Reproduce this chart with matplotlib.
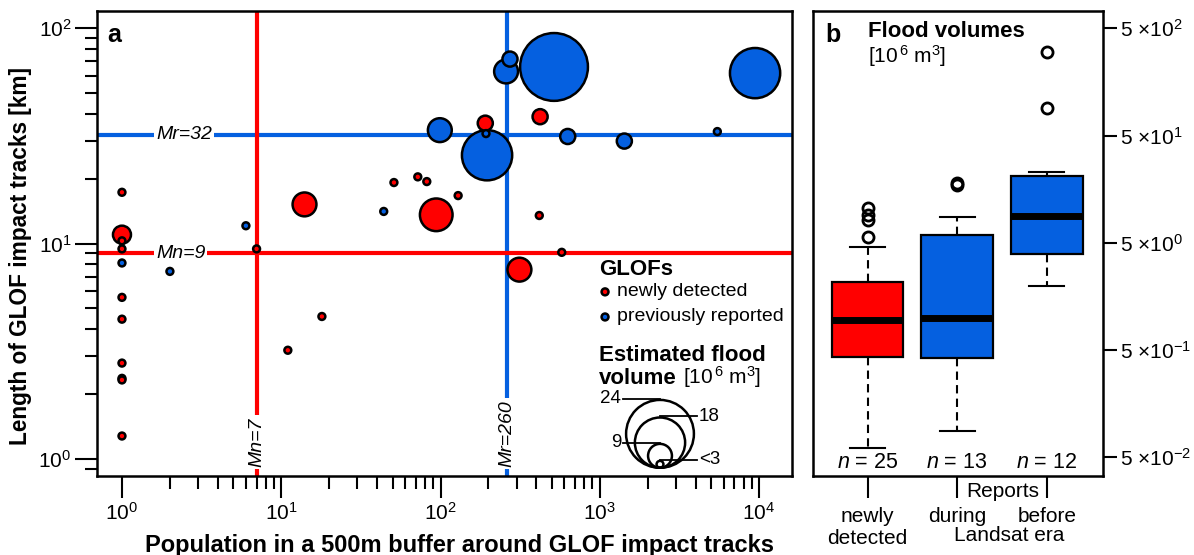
import numpy as np
import matplotlib.pyplot as plt
from matplotlib.ticker import NullFormatter, NullLocator, FixedLocator
import matplotlib.transforms as mtransforms

plt.rcParams['font.family'] = ['Liberation Sans', 'DejaVu Sans']
plt.rcParams['mathtext.fontset'] = 'custom'
plt.rcParams['mathtext.rm'] = 'Liberation Sans'
plt.rcParams['mathtext.it'] = 'Liberation Sans:italic'
plt.rcParams['mathtext.bf'] = 'Liberation Sans:bold'

RED = '#ff0000'
BLUE = '#0560e0'

# newly detected GLOFs: population in 500 m buffer, track length [km], flood volume [10^6 m^3]
new_pop = [1, 1, 1, 1, 1, 1, 1, 1, 1, 1, 7, 14, 18, 11, 51, 72, 82, 129, 94, 191, 422, 417, 577, 313]
new_len = [17.3, 11.0, 10.3, 9.45, 5.63, 4.46, 2.79, 2.37, 2.33, 1.28, 9.45, 15.2, 4.59, 3.2,
           19.2, 20.4, 19.4, 16.7, 13.6, 36.2, 38.8, 13.5, 9.11, 7.57]
new_vol = [2, 7, 2.5, 2, 2, 2, 2, 2, 2, 2, 2, 9, 2, 2, 2, 2, 2, 2, 12, 6, 6, 2, 2, 9]

# previously reported GLOFs
rep_pop = [1, 2, 6, 44, 99, 193, 196, 258, 273, 516, 629, 1426, 5470, 9440]
rep_len = [8.13, 7.43, 12.1, 14.1, 33.6, 32.4, 25.7, 62.9, 71.8, 66.0, 31.4, 29.9, 33.1, 61.8]
rep_vol = [2, 2, 2, 2, 9, 2, 18, 9, 6, 24, 6, 6, 2, 18]

# medians (Mn = newly detected, Mr = previously reported)
mn_pop, mn_len = 7, 9
mr_pop, mr_len = 260, 32

# size legend values
legend_vols = [24, 18, 9, 3]
legend_labels = ['24', '18', '9', '<3']

# panel b: flood volume box statistics [10^6 m^3]
box_labels = ['newly\ndetected', 'during', 'before']
box_n = [25, 13, 12]
box_colors = [RED, BLUE, BLUE]
box_whislo = [0.0607, 0.0879, 1.99]
box_q1 = [0.433, 0.419, 3.91]
box_med = [0.953, 0.989, 8.89]
box_q3 = [2.14, 5.91, 21.1]
box_whishi = [4.54, 8.75, 23.0]
box_fliers = [[5.7, 8.2, 9.1, 10.5], [17.3, 18.2], [89.8, 299]]
vol_ticks = [0.05, 0.5, 5, 50, 500]
vol_ticklabels = ['5 \u00d710$^{\\mathregular{-2}}$', '5 \u00d710$^{\\mathregular{-1}}$',
                  '5 \u00d710$^{\\mathregular{0}}$', '5 \u00d710$^{\\mathregular{1}}$',
                  '5 \u00d710$^{\\mathregular{2}}$']

W, H = 1194, 555
EDGE = 1.8


def marker_area(vol):
    # circle diameter grows linearly with flood volume, small floods share one size
    d_px = 2.93 * np.maximum(np.asarray(vol, float), 3.2)
    return (d_px * 0.72 - EDGE) ** 2


fig = plt.figure(figsize=(W / 100, H / 100), dpi=100)
ax = fig.add_axes([97 / W, 1 - 476 / H, 695 / W, 465 / H])
axb = fig.add_axes([813 / W, 1 - 476 / H, 290 / W, 465 / H])

# ---- panel a
ax.set_xscale('log')
ax.set_yscale('log')
ax.set_xlim(0.697, 16100)
ax.set_ylim(0.835, 120)

ax.axvline(mr_pop, color=BLUE, lw=3, zorder=1)
ax.axhline(mr_len, color=BLUE, lw=3, zorder=1)
ax.axvline(mn_pop, color=RED, lw=3, zorder=1.1)
ax.axhline(mn_len, color=RED, lw=3, zorder=1.1)

lab_kw = dict(fontsize=14, style='italic', zorder=2,
              bbox=dict(facecolor='white', edgecolor='none', pad=1.5))
ax.text(1.635, mr_len, 'Mr=%d' % mr_len, ha='left', va='center', **lab_kw)
ax.text(1.635, mn_len, 'Mn=%d' % mn_len, ha='left', va='center', **lab_kw)
ax.text(mn_pop, 1.2, 'Mn=%d' % mn_pop, rotation=90, ha='center', va='center', **lab_kw)
ax.text(mr_pop, 1.32, 'Mr=%d' % mr_pop, rotation=90, ha='center', va='center', **lab_kw)

pop = np.array(new_pop + rep_pop, float)
length = np.array(new_len + rep_len, float)
vol = np.array(new_vol + rep_vol, float)
cols = np.array([RED] * len(new_pop) + [BLUE] * len(rep_pop))
order = np.argsort(-vol, kind='stable')
ax.scatter(pop[order], length[order], s=marker_area(vol[order]), c=cols[order],
           edgecolors='black', linewidths=EDGE, zorder=3)

for sp in ax.spines.values():
    sp.set_linewidth(1.8)
ax.tick_params(axis='both', which='major', length=15.5, width=1.5, labelsize=15, pad=3)
ax.tick_params(axis='both', which='minor', length=9, width=1.5)
ax.xaxis.set_minor_locator(FixedLocator([k * 10.0 ** e for e in range(4) for k in range(2, 10)]))
ax.yaxis.set_minor_locator(FixedLocator([0.9] + [k * 10.0 ** e for e in range(2) for k in range(2, 10)]))
ax.xaxis.set_minor_formatter(NullFormatter())
ax.yaxis.set_minor_formatter(NullFormatter())

ax.set_xlabel('Population in a 500m buffer around GLOF impact tracks',
              fontsize=17, fontweight='bold')
ax.xaxis.set_label_coords(0.521, -0.124)
ax.set_ylabel('Length of GLOF impact tracks [km]', fontsize=16.3, fontweight='bold')
ax.yaxis.set_label_coords(-0.093, 0.473)

ax.text(0.0144, 0.934, 'a', transform=ax.transAxes, fontsize=18, fontweight='bold')

# legend
ax.text(0.7223, 0.432, 'GLOFs', transform=ax.transAxes, fontsize=16, fontweight='bold')
ax.scatter([0.731, 0.731], [0.396, 0.342], s=marker_area([2, 2]), c=[RED, BLUE],
           edgecolors='black', linewidths=EDGE, transform=ax.transAxes, zorder=3)
ax.text(0.748, 0.396, 'newly detected', transform=ax.transAxes, fontsize=14, va='center')
ax.text(0.748, 0.342, 'previously reported', transform=ax.transAxes, fontsize=14, va='center')
ax.text(0.7223, 0.248, 'Estimated flood', transform=ax.transAxes, fontsize=16, fontweight='bold')
ax.text(0.7223, 0.198, 'volume', transform=ax.transAxes, fontsize=16, fontweight='bold')
ax.text(0.843, 0.198, '[10$^{\\mathregular{\\,6}}$ m$^{\\mathregular{3}}$]',
        transform=ax.transAxes, fontsize=15)

leg = fig.add_axes([580 / W, 1 - 478 / H, 150 / W, 95 / H])
leg.set_xlim(580, 730)
leg.set_ylim(478, 383)
leg.axis('off')
cx, base = 660, 469
for v, lab, side in zip(legend_vols, legend_labels, [-1, 1, -1, 1]):
    d = 2.93 * max(v, 3.2)
    leg.scatter([cx], [base - d / 2], s=marker_area([v]), facecolors='none',
                edgecolors='black', linewidths=EDGE, clip_on=False)
    top = base - d
    x_end = cx + side * 37
    leg.plot([cx, x_end], [top, top], color='black', lw=1.3, clip_on=False)
    leg.text(x_end + side * 2, top, lab, ha='right' if side < 0 else 'left',
             va='center', fontsize=13.5)

# ---- panel b
axb.set_yscale('log')
stats = []
for i in range(len(box_labels)):
    stats.append(dict(med=box_med[i], q1=box_q1[i], q3=box_q3[i], whislo=box_whislo[i],
                      whishi=box_whishi[i], fliers=box_fliers[i]))
bp = axb.bxp(stats, positions=[1, 2, 3], widths=0.8, capwidths=0.39, patch_artist=True,
             manage_ticks=False,
             boxprops=dict(edgecolor='black', linewidth=1.6),
             medianprops=dict(color='black', linewidth=5, solid_capstyle='butt'),
             whiskerprops=dict(color='black', linewidth=1.5, linestyle=(0, (4, 2.5))),
             capprops=dict(color='black', linewidth=1.5),
             flierprops=dict(marker='o', markerfacecolor='none', markeredgecolor='black',
                             markersize=8, markeredgewidth=2))
for patch, c in zip(bp['boxes'], box_colors):
    patch.set_facecolor(c)

axb.set_xlim(0.389, 3.629)
axb.set_ylim(0.0335, 724)
axb.yaxis.tick_right()
axb.set_yticks(vol_ticks)
axb.set_yticklabels(vol_ticklabels)
axb.yaxis.set_minor_locator(NullLocator())
axb.tick_params(axis='y', length=10, width=1.5, labelsize=15, pad=2)
axb.set_xticks([1, 2, 3])
axb.set_xticklabels(box_labels)
axb.tick_params(axis='x', length=16, width=1.5, labelsize=15, pad=6)
for sp in axb.spines.values():
    sp.set_linewidth(1.8)

btr = mtransforms.blended_transform_factory(axb.transData, axb.transAxes)
for i, n in enumerate(box_n):
    axb.text(i + 1, 0.0286, '$\\mathit{n}$ = %d' % n, ha='center', va='center',
             fontsize=15.5, transform=btr)
axb.text(2.51, -0.034, 'Reports', ha='center', va='center', fontsize=15, transform=btr)
axb.text(2.58, -0.127, 'Landsat era', ha='center', va='center', fontsize=15, transform=btr)

axb.text(0.041, 0.934, 'b', transform=axb.transAxes, fontsize=18, fontweight='bold')
axb.text(0.19, 0.945, 'Flood volumes', transform=axb.transAxes, fontsize=16, fontweight='bold')
axb.text(0.19, 0.889, '[10$^{\\mathregular{\\,6}}$ m$^{\\mathregular{3}}$]',
         transform=axb.transAxes, fontsize=15)

fig.savefig('out.png', dpi=100)
